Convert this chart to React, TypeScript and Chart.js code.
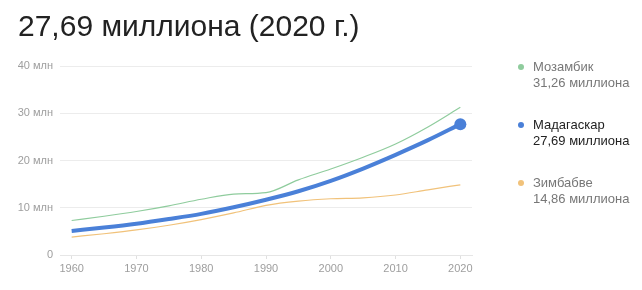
import React, { useEffect, useRef } from "react";
import { Chart, registerables } from "chart.js";

Chart.register(...registerables);

const years = [1960, 1965, 1970, 1975, 1980, 1985, 1990, 1995, 2000, 2005, 2010, 2015, 2020];
const madagascar = [5.1, 5.8, 6.6, 7.6, 8.7, 10.1, 11.7, 13.5, 15.7, 18.3, 21.2, 24.3, 27.69];
const mozambique = [7.3, 8.2, 9.2, 10.4, 11.8, 12.9, 13.2, 15.9, 18.2, 20.7, 23.5, 27.1, 31.26];
const zimbabwe = [3.8, 4.5, 5.3, 6.3, 7.5, 8.9, 10.5, 11.4, 11.9, 12.1, 12.7, 13.8, 14.86];
const tickYears = [1960, 1970, 1980, 1990, 2000, 2010, 2020];
const yTicks = [0, 10, 20, 30, 40];

const legendItems = [
  { name: "Мозамбик", value: "31,26 миллиона", color: "#8fcc9d", text: "#777777" },
  { name: "Мадагаскар", value: "27,69 миллиона", color: "#4a80d8", text: "#222222" },
  { name: "Зимбабве", value: "14,86 миллиона", color: "#f1c27a", text: "#777777" },
];

const FONT = "Arial, 'Liberation Sans', sans-serif";

export default function App() {
  const ref = useRef<HTMLCanvasElement | null>(null);

  useEffect(() => {
    document.body.style.margin = "0";
    const ctx = ref.current!;
    const toPts = (arr: number[]) => years.map((y, i) => ({ x: y, y: arr[i] }));
    const chart = new Chart(ctx, {
      type: "line",
      data: {
        datasets: [
          {
            label: "Мадагаскар",
            data: toPts(madagascar),
            borderColor: "#4a80d8",
            backgroundColor: "#4a80d8",
            borderWidth: 4,
            pointRadius: years.map((_, i) => (i === years.length - 1 ? 6 : 0)),
            pointBorderWidth: 0,
            cubicInterpolationMode: "monotone",
            order: 0,
          },
          {
            label: "Мозамбик",
            data: toPts(mozambique),
            borderColor: "#8fcc9d",
            borderWidth: 1.2,
            pointRadius: 0,
            cubicInterpolationMode: "monotone",
            order: 1,
          },
          {
            label: "Зимбабве",
            data: toPts(zimbabwe),
            borderColor: "#f1c27a",
            borderWidth: 1.2,
            pointRadius: 0,
            cubicInterpolationMode: "monotone",
            order: 2,
          },
        ],
      },
      options: {
        animation: false,
        responsive: false,
        maintainAspectRatio: false,
        layout: { padding: { left: 0, top: 66, right: 170, bottom: 0 } },
        plugins: { legend: { display: false }, tooltip: { enabled: false }, title: { display: false } },
        scales: {
          x: {
            type: "linear",
            min: 1958.2,
            max: 2021.8,
            afterBuildTicks: (s: any) => {
              s.ticks = tickYears.map((v) => ({ value: v }));
            },
            afterFit: (s: any) => {
              s.height = 35;
            },
            grid: {
              drawOnChartArea: false,
              drawTicks: true,
              tickLength: 4,
              color: "#e0e0e0",
            },
            border: { display: true, color: "#e6e6e6" },
            ticks: {
              padding: 3,
              color: "#9e9e9e",
              font: { family: FONT, size: 11 },
              maxRotation: 0,
              autoSkip: false,
              callback: (v: any) => String(v),
            },
          },
          y: {
            min: 0,
            max: 40,
            afterBuildTicks: (s: any) => {
              s.ticks = yTicks.map((v) => ({ value: v }));
            },
            afterFit: (s: any) => {
              s.width = 60;
            },
            grid: { drawTicks: false, color: "#ececec" },
            border: { display: false },
            ticks: {
              padding: 7,
              color: "#9e9e9e",
              font: { family: FONT, size: 11 },
              callback: (v: any) => (v === 0 ? "0" : v + " млн"),
            },
          },
        },
      },
    } as any);
    return () => chart.destroy();
  }, []);

  return (
    <div style={{ position: "fixed", left: 0, top: 0, width: 642, height: 290, background: "#fff", fontFamily: FONT }}>
      <canvas ref={ref} width={642} height={290} style={{ position: "absolute", left: 0, top: 0 }} />
      <div
        style={{
          position: "absolute",
          left: 18,
          top: 8,
          fontSize: 30,
          lineHeight: "36px",
          color: "#222",
          whiteSpace: "nowrap",
        }}
      >
        27,69 миллиона (2020 г.)
      </div>
      {legendItems.map((it, i) => (
        <div
          key={it.name}
          style={{
            position: "absolute",
            left: 516,
            top: 59 + i * 58,
            fontSize: 13,
            lineHeight: "16px",
            color: it.text,
            whiteSpace: "nowrap",
          }}
        >
          <span
            style={{
              position: "absolute",
              left: 2,
              top: 5,
              width: 6,
              height: 6,
              borderRadius: 3,
              background: it.color,
            }}
          />
          <div style={{ paddingLeft: 17 }}>{it.name}</div>
          <div style={{ paddingLeft: 17 }}>{it.value}</div>
        </div>
      ))}
    </div>
  );
}
